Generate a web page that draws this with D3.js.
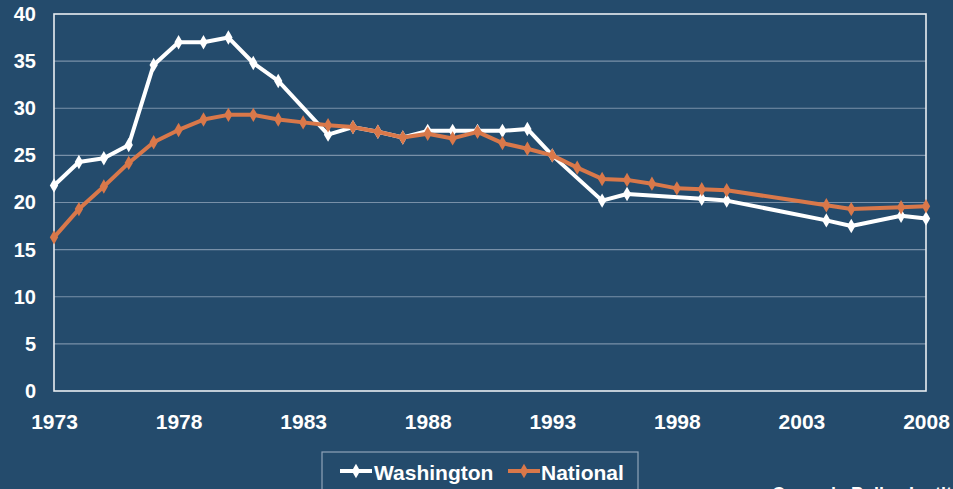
<!DOCTYPE html>
<html><head><meta charset="utf-8">
<script src="https://cdn.jsdelivr.net/npm/d3@7/dist/d3.min.js"></script>
<style>html,body{margin:0;padding:0;background:#244b6c;overflow:hidden}</style>
</head><body><svg id="c" width="953" height="489"></svg>
<script>
const washYears = [1973,1974,1975,1976,1977,1978,1979,1980,1981,1982,1984,1985,1986,1987,1988,1989,1990,1991,1992,1993,1995,1996,1999,2000,2004,2005,2007,2008];
const washValues = [21.8,24.3,24.7,26.1,34.6,37.0,37.0,37.5,34.8,32.9,27.2,28.0,27.5,26.9,27.6,27.6,27.6,27.6,27.8,25.0,20.2,20.9,20.4,20.2,18.1,17.5,18.6,18.3];
const natYears = [1973,1974,1975,1976,1977,1978,1979,1980,1981,1982,1983,1984,1985,1986,1987,1988,1989,1990,1991,1992,1993,1994,1995,1996,1997,1998,1999,2000,2004,2005,2007,2008];
const natValues = [16.3,19.3,21.7,24.2,26.4,27.7,28.8,29.3,29.3,28.8,28.5,28.2,28.0,27.5,26.9,27.3,26.8,27.5,26.3,25.7,25.0,23.7,22.5,22.4,22.0,21.5,21.4,21.3,19.7,19.3,19.5,19.6];
const xTicks = [1973,1978,1983,1988,1993,1998,2003,2008];
const yTicks = [0,5,10,15,20,25,30,35,40];
const seriesNames = ["Washington","National"];
const seriesColors = ["#ffffff","#d9784a"];

const svg = d3.select("#c");
const L=54, R=926, T=14, B=391;
const x = d3.scaleLinear().domain([1973,2008]).range([L,R]);
const y = d3.scaleLinear().domain([0,40]).range([B,T]);
const font = "'Liberation Sans', Arial, sans-serif";

// grid
svg.append("g").selectAll("line").data(yTicks.filter(d=>d>0&&d<40)).join("line")
  .attr("x1",L).attr("x2",R).attr("y1",d=>y(d)).attr("y2",d=>y(d))
  .attr("stroke","#7890a8").attr("stroke-width",1.2);
// frame
svg.append("rect").attr("x",L).attr("y",T).attr("width",R-L).attr("height",B-T)
  .attr("fill","none").attr("stroke","#e8edf2").attr("stroke-width",1.6);

// axes
const yAxis = svg.append("g").attr("transform",`translate(${L},0)`)
  .call(d3.axisLeft(y).tickValues(yTicks).tickSize(0).tickPadding(18));
yAxis.select(".domain").remove();
yAxis.selectAll("text").attr("fill","#fff").attr("font-family",font).attr("font-weight","bold").attr("font-size","20px");
const xAxis = svg.append("g").attr("transform",`translate(0,${B})`)
  .call(d3.axisBottom(x).tickValues(xTicks).tickFormat(d3.format("d")).tickSize(0).tickPadding(23));
xAxis.select(".domain").remove();
xAxis.selectAll("text").attr("fill","#fff").attr("font-family",font).attr("font-weight","bold").attr("font-size","21px");

const diamond = d3.symbol().type(d3.symbolDiamond).size(60);
const data = [
  washYears.map((yr,i)=>({yr, v:washValues[i]})),
  natYears.map((yr,i)=>({yr, v:natValues[i]}))
];
const line = d3.line().x(d=>x(d.yr)).y(d=>y(d.v));
data.forEach((pts,si)=>{
  const g = svg.append("g");
  g.append("path").datum(pts).attr("d",line).attr("fill","none")
    .attr("stroke",seriesColors[si]).attr("stroke-width",4).attr("stroke-linejoin","round");
  g.selectAll("path.m").data(pts).join("path").attr("class","m")
    .attr("d",diamond).attr("transform",d=>`translate(${x(d.yr)},${y(d.v)})`)
    .attr("fill",seriesColors[si]);
});

// legend
const lg = svg.append("g");
lg.append("rect").attr("x",322).attr("y",452).attr("width",316).attr("height",44)
  .attr("fill","none").attr("stroke","#8fa3b8").attr("stroke-width",1.2);
const items = [{x:340,tx:374},{x:508,tx:541}];
items.forEach((it,i)=>{
  lg.append("line").attr("x1",it.x).attr("x2",it.x+32).attr("y1",471).attr("y2",471)
    .attr("stroke",seriesColors[i]).attr("stroke-width",4);
  lg.append("path").attr("d",diamond).attr("transform",`translate(${it.x+16},471)`).attr("fill",seriesColors[i]);
  lg.append("text").attr("x",it.tx).attr("y",480).text(seriesNames[i])
    .attr("fill","#fff").attr("font-family",font).attr("font-weight","bold").attr("font-size","21px");
});
svg.append("text").attr("x",772).attr("y",500).text("Cascade Policy Institute")
  .attr("fill","#fff").attr("font-family",font).attr("font-weight","bold").attr("font-size","18px");
</script></body></html>
